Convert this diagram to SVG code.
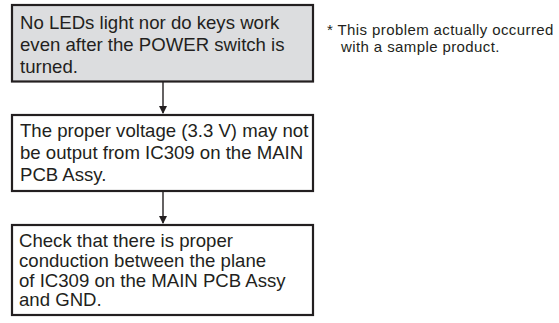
<svg xmlns="http://www.w3.org/2000/svg" width="559" height="323" viewBox="0 0 559 323">
<defs>
<style>
.box{stroke:#231f20;stroke-width:2.2;}
.t{font-family:"Liberation Sans",Arial,sans-serif;font-size:18.6px;fill:#231f20;}
.n{font-family:"Liberation Sans",Arial,sans-serif;font-size:15px;letter-spacing:0.4px;fill:#231f20;}
.c{stroke:#231f20;stroke-width:1.4;fill:none;}
</style>
<marker id="ah" markerWidth="8" markerHeight="10" refX="7" refY="4" orient="auto" markerUnits="userSpaceOnUse" viewBox="0 0 8 8">
<path d="M0,0 L8,4 L0,8 Z" fill="#231f20"/>
</marker>
</defs>
<rect width="559" height="323" fill="#ffffff"/>
<g id="connectors">
<line class="c" x1="163" y1="82" x2="163" y2="113" marker-end="url(#ah)"/>
<line class="c" x1="163" y1="192" x2="163" y2="223" marker-end="url(#ah)"/>
</g>
<g id="node1">
<rect class="box" x="12" y="5" width="301" height="76.5" fill="#dcdddf"/>
<text class="t" x="20" y="29">No LEDs light nor do keys work</text>
<text class="t" x="20" y="51">even after the POWER switch is</text>
<text class="t" x="20" y="73">turned.</text>
</g>
<g id="node2">
<rect class="box" x="12" y="115" width="301" height="76" fill="#ffffff"/>
<text class="t" x="20" y="137">The proper voltage (3.3 V) may not</text>
<text class="t" x="20" y="159">be output from IC309 on the MAIN</text>
<text class="t" x="20" y="181">PCB Assy.</text>
</g>
<g id="node3">
<rect class="box" x="12" y="225" width="301" height="90" fill="#ffffff"/>
<text class="t" x="19" y="247">Check that there is proper</text>
<text class="t" x="19" y="267">conduction between the plane</text>
<text class="t" x="19" y="287">of IC309 on the MAIN PCB Assy</text>
<text class="t" x="19" y="306">and GND.</text>
</g>
<g id="note">
<text class="n" x="327" y="35">* This problem actually occurred</text>
<text class="n" x="341" y="52">with a sample product.</text>
</g>
</svg>
